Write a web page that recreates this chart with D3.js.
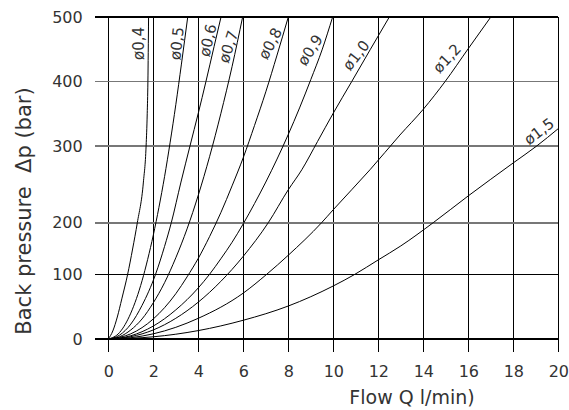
<!DOCTYPE html>
<html>
<head>
<meta charset="utf-8">
<script src="https://cdn.jsdelivr.net/npm/d3@7"></script>
<style>
  body { margin: 0; background: #fff; }
  text { font-family: "DejaVu Sans", sans-serif; fill: #333; }
</style>
</head>
<body>
<script>
// values: [flow l/min, back pressure bar]
const flowTicks = [0, 2, 4, 6, 8, 10, 12, 14, 16, 18, 20];
const pressureTicks = [0, 100, 200, 300, 400, 500];
const nozzles = ['ø0,4', 'ø0,5', 'ø0,6', 'ø0,7', 'ø0,8', 'ø0,9', 'ø1,0', 'ø1,2', 'ø1,5'];

const d04 = [[0, 0], [0.2, 12.4], [0.4, 34], [0.6, 62], [0.86, 100], [1.08, 149], [1.29, 200], [1.56, 253], [1.68, 300], [1.73, 350], [1.76, 400], [1.79, 500]];
const d05 = [[0, 0], [0.5, 10], [1, 40], [1.5, 90], [1.75, 129], [2, 176], [2.25, 220], [2.5, 260], [2.75, 306], [3, 364], [3.25, 427], [3.53, 500]];
const d06 = [[0, 0], [0.5, 6], [1, 23], [1.5, 52], [2.1, 100], [2.5, 154], [2.8, 200], [3.23, 253], [3.63, 300], [4, 351], [4.34, 400], [4.7, 454], [5.01, 500]];
const d07 = [[0, 0], [0.5, 3.5], [1, 14], [1.5, 31], [2, 56], [2.5, 87], [3, 132], [3.5, 188], [4, 236], [4.5, 286], [5, 350], [5.5, 423], [5.97, 500]];
const d08 = [[0, 0], [1, 8], [2, 31], [3, 70], [3.5, 96], [4, 131], [4.5, 173], [5, 213], [5.5, 248], [6, 285], [6.5, 332], [7, 384], [7.5, 441], [8, 500]];
const d09 = [[0, 0], [1, 5], [2, 20], [3, 45], [4, 79], [4.5, 100], [5, 130], [5.5, 162], [6, 198], [6.5, 225], [7, 253], [7.5, 283], [8, 318], [8.5, 359], [9, 403], [9.5, 449], [9.97, 500]];
const d10 = [[0, 0], [1, 3.6], [2, 14], [3, 32], [4, 57], [5, 89], [6, 135], [7.11, 200], [8, 243], [8.6, 269], [9.3, 307], [10, 351], [10.82, 400], [11.65, 450], [12.49, 500]];
const d12 = [[0, 0], [1, 2], [2, 8], [4, 32], [6, 71], [7.04, 100], [8, 137], [9.48, 200], [10, 217], [11.63, 269], [12.96, 317], [14, 357], [14.97, 400], [16, 451], [17, 500]];
const d15 = [[0, 0], [2, 3.4], [4, 13], [6, 29], [8, 51], [10, 82], [10.96, 100], [12, 128], [13, 155], [14.44, 200], [16, 235], [18, 278], [19.04, 300], [20, 327]];
const curves = [d04, d05, d06, d07, d08, d09, d10, d12, d15];

// where each nozzle label sits, in chart units
const labelAt = [[1.36, 459], [3.04, 459], [4.42, 464], [5.33, 454], [7.19, 459], [8.96, 449], [11.01, 441], [15.04, 436], [19.14, 323]];
const labelAngle = [-90, -84, -77, -72, -62, -57, -52, -47, -37];

const width = 569;
const height = 410;
const tickLen = 13;

const svg = d3.select('body')
  .append('svg')
  .attr('width', width)
  .attr('height', height);

const x = d3.scaleLinear().domain([0, 20]).range([108.3, 558.3]);
// the printed grid is not evenly spaced, so map each tick to where it sits
const y = d3.scaleLinear().domain(pressureTicks).range([339, 274.3, 222.7, 146, 81.5, 17]);

// grid
svg.append('g')
  .selectAll('line')
  .data(flowTicks)
  .enter()
  .append('line')
  .attr('x1', d => x(d))
  .attr('x2', d => x(d))
  .attr('y1', y(500))
  .attr('y2', y(0) + tickLen)
  .attr('stroke', '#000')
  .attr('stroke-width', 1.2)
  .attr('shape-rendering', 'crispEdges');

svg.append('g')
  .selectAll('line')
  .data(pressureTicks)
  .enter()
  .append('line')
  .attr('x1', x(0) - tickLen)
  .attr('x2', x(20))
  .attr('y1', d => y(d))
  .attr('y2', d => y(d))
  .attr('stroke', d => (d === 0 || d === 100 || d === 500) ? '#000' : '#777')
  .attr('stroke-width', d => (d === 0 || d === 100 || d === 500) ? 1.2 : 1.6)
  .attr('shape-rendering', 'crispEdges');

// axes (labels only, lines come from the grid)
const xAxis = svg.append('g')
  .attr('transform', `translate(0,${y(0)})`)
  .call(d3.axisBottom(x).tickValues(flowTicks).tickSize(0).tickPadding(26.6));
const yAxis = svg.append('g')
  .attr('transform', `translate(${x(0)},0)`)
  .call(d3.axisLeft(y).tickValues(pressureTicks).tickSize(0).tickPadding(25.6));

[xAxis, yAxis].forEach(g => {
  g.select('.domain').remove();
  g.selectAll('text')
    .style('font-family', '"DejaVu Sans", sans-serif')
    .style('font-size', '16px')
    .attr('fill', '#333');
});

// curves
const line = d3.line()
  .x(d => x(d[0]))
  .y(d => y(d[1]))
  .curve(d3.curveMonotoneX);

svg.append('g')
  .selectAll('path')
  .data(curves)
  .enter()
  .append('path')
  .attr('d', line)
  .attr('fill', 'none')
  .attr('stroke', '#000')
  .attr('stroke-width', 1);

// nozzle labels
svg.append('g')
  .selectAll('text')
  .data(nozzles)
  .enter()
  .append('text')
  .attr('transform', (d, i) => `translate(${x(labelAt[i][0])},${y(labelAt[i][1])}) rotate(${labelAngle[i]})`)
  .attr('text-anchor', 'middle')
  .attr('dy', '0.36em')
  .style('font-size', '15px')
  .attr('fill', '#222')
  .text(d => d);

// axis titles
svg.append('text')
  .attr('x', 412)
  .attr('y', 404)
  .attr('text-anchor', 'middle')
  .style('font-size', '19px')
  .text('Flow Q l/min)');

svg.append('text')
  .attr('transform', 'translate(31,211) rotate(-90)')
  .attr('text-anchor', 'middle')
  .style('font-size', '21px')
  .style('white-space', 'pre')
  .attr('xml:space', 'preserve')
  .text('Back pressure  Δp (bar)');
</script>
</body>
</html>
